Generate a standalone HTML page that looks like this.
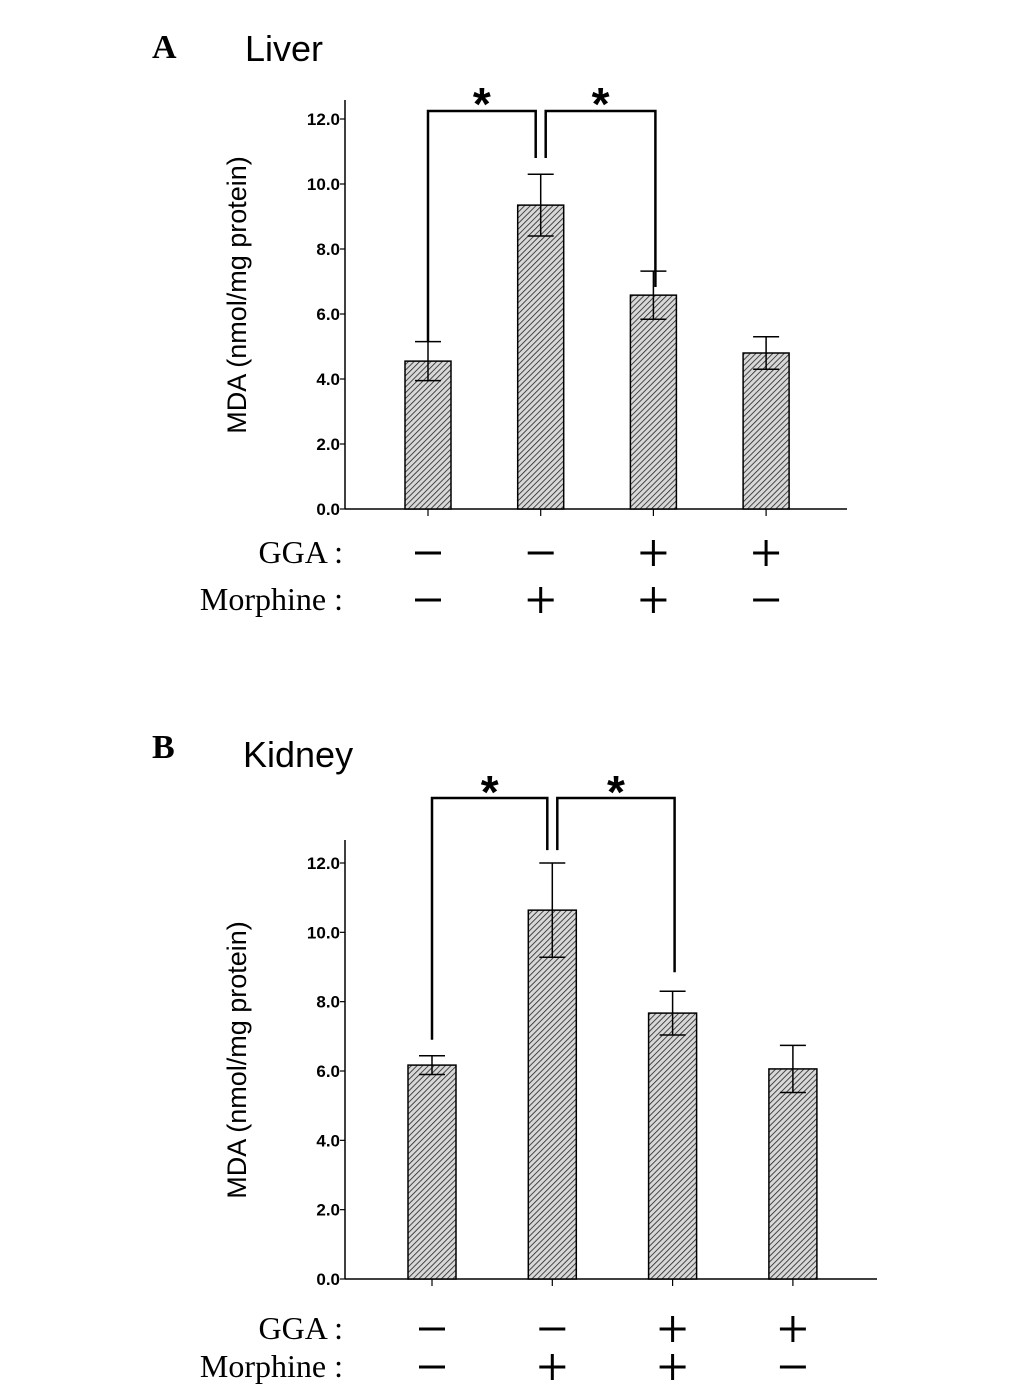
<!DOCTYPE html>
<html><head><meta charset="utf-8"><style>
html,body{margin:0;padding:0;background:#fff;}
svg{display:block;}
</style></head><body>
<svg id="chart" width="1033" height="1392" xmlns="http://www.w3.org/2000/svg">
<defs>
<pattern id="hatch" patternUnits="userSpaceOnUse" width="4" height="4" patternTransform="rotate(45)">
<rect width="4" height="4" fill="#d8d8d8"/>
<line x1="0" y1="0" x2="0" y2="4" stroke="#222" stroke-width="1.6"/>
</pattern>
</defs>
<g id="root"></g>
</svg>
<script>
const categories = ["ctrl","morphine","gga+morphine","gga"];
const ggaSigns = ["-","-","+","+"];
const morphineSigns = ["-","+","+","-"];
const tickValues = [0,2,4,6,8,10,12];
const tickLabels = ["0.0","2.0","4.0","6.0","8.0","10.0","12.0"];
const liverMeans = [4.55,9.35,6.58,4.8];
const liverErrors = [0.6,0.95,0.74,0.5];
const kidneyMeans = [6.17,10.64,7.67,6.06];
const kidneyErrors = [0.27,1.36,0.63,0.68];
const liverBracketEnds = [5.15,10.8,10.8,6.83];
const kidneyBracketEnds = [6.9,12.37,12.37,8.85];

const NS="http://www.w3.org/2000/svg";
const root=document.getElementById('root');
function mk(tag,attrs,parent){const e=document.createElementNS(NS,tag);for(const k in attrs)e.setAttribute(k,attrs[k]);(parent||root).appendChild(e);return e;}

const panels=[
 {key:"liver",letter:"A",title:"Liver",means:liverMeans,errs:liverErrors,ends:liverBracketEnds,axX:345,axTop:100,y0:509,y12:119,xEnd:847,cx0:428,step:112.7,bw:46,
  letterY:58,titleX:245,titleY:61,tsize:36,gY:565,mY:612,starY:112,brTop:111,titleYc:295},
 {key:"kidney",letter:"B",title:"Kidney",means:kidneyMeans,errs:kidneyErrors,ends:kidneyBracketEnds,axX:345,axTop:840,y0:1279,y12:863,xEnd:877,cx0:432,step:120.3,bw:48,
  letterY:758,titleX:243,titleY:767,tsize:36,gY:1341,mY:1379,starY:800,brTop:798,titleYc:1060}
];

panels.forEach(p=>{
 const g=mk('g',{});
 
 
 const y=v=>p.y0-(p.y0-p.y12)*v/12;
 const x=i=>p.cx0+p.step*i;
 let t=mk('text',{x:152,y:p.letterY,'font-family':'Liberation Serif','font-weight':'bold','font-size':34},g);t.textContent=p.letter;
 
 t=mk('text',{x:p.titleX,y:p.titleY,'font-family':'Liberation Sans','font-size':p.tsize},g);t.textContent=p.title;
 
 t=mk('text',{x:0,y:0,transform:`translate(246,${p.titleYc}) rotate(-90)`,'text-anchor':'middle','font-family':'Liberation Sans','font-size':27},g);t.textContent="MDA  (nmol/mg protein)";
 t.setAttribute('xml:space','preserve');
 
 let a=mk('line',{x1:p.axX,y1:p.axTop,x2:p.axX,y2:p.y0,stroke:'#000','stroke-width':1.5},g);
 
 a=mk('line',{x1:p.axX,y1:p.y0,x2:p.xEnd,y2:p.y0,stroke:'#000','stroke-width':1.5},g);
 
 tickValues.forEach((v,i)=>{
  mk('line',{x1:p.axX-5,y1:y(v),x2:p.axX,y2:y(v),stroke:'#000','stroke-width':1.2},g);
  const tl=mk('text',{x:p.axX-5,y:y(v)+6,'text-anchor':'end','font-family':'Liberation Sans','font-weight':'bold','font-size':17},g);
  tl.textContent=tickLabels[i];
  
 });
 categories.forEach((c,i)=>{
  const cx=x(i),m=p.means[i],e=p.errs[i];
  mk('line',{x1:cx,y1:p.y0,x2:cx,y2:p.y0+7,stroke:'#000','stroke-width':1.2},g);
  const b=mk('rect',{x:cx-p.bw/2,y:y(m),width:p.bw,height:p.y0-y(m),fill:'url(#hatch)',stroke:'#000','stroke-width':1.5},g);
  
  const eb=mk('path',{d:`M${cx},${y(m+e)}V${y(m-e)}M${cx-13},${y(m+e)}h26M${cx-13},${y(m-e)}h26`,stroke:'#000','stroke-width':1.5,fill:'none'},g);
  
  [[ggaSigns[i],p.gY],[morphineSigns[i],p.mY]].forEach(([s,yy])=>{
   const sg=mk('path',{d:s==='+'?`M${cx-13},${yy-12}h26M${cx},${yy-25}v26`:`M${cx-13},${yy-12}h26`,stroke:'#000','stroke-width':3,fill:'none'},g);
   
  });
 });
 [["GGA :",p.gY],["Morphine :",p.mY]].forEach(([s,yy])=>{
  const l=mk('text',{x:343,y:yy-2,'text-anchor':'end','font-family':'Liberation Serif','font-size':32},g);l.textContent=s;
  
 });
 const br=(i,j,offI,offJ,ei,ej)=>{
  const xi=x(i)+offI,xj=x(j)+offJ;
  const bp=mk('path',{d:`M${xi},${y(p.ends[ei])}V${p.brTop}H${xj}V${y(p.ends[ej])}`,stroke:'#000','stroke-width':2.5,fill:'none'},g);
  
  const st=mk('text',{x:(xi+xj)/2,y:p.starY+8,'text-anchor':'middle','font-family':'Liberation Sans','font-weight':'bold','font-size':46},g);st.textContent='*';
  
 };
 br(0,1,0,-5,0,1);br(1,2,5,2,2,3);
});
</script>
</body></html>
